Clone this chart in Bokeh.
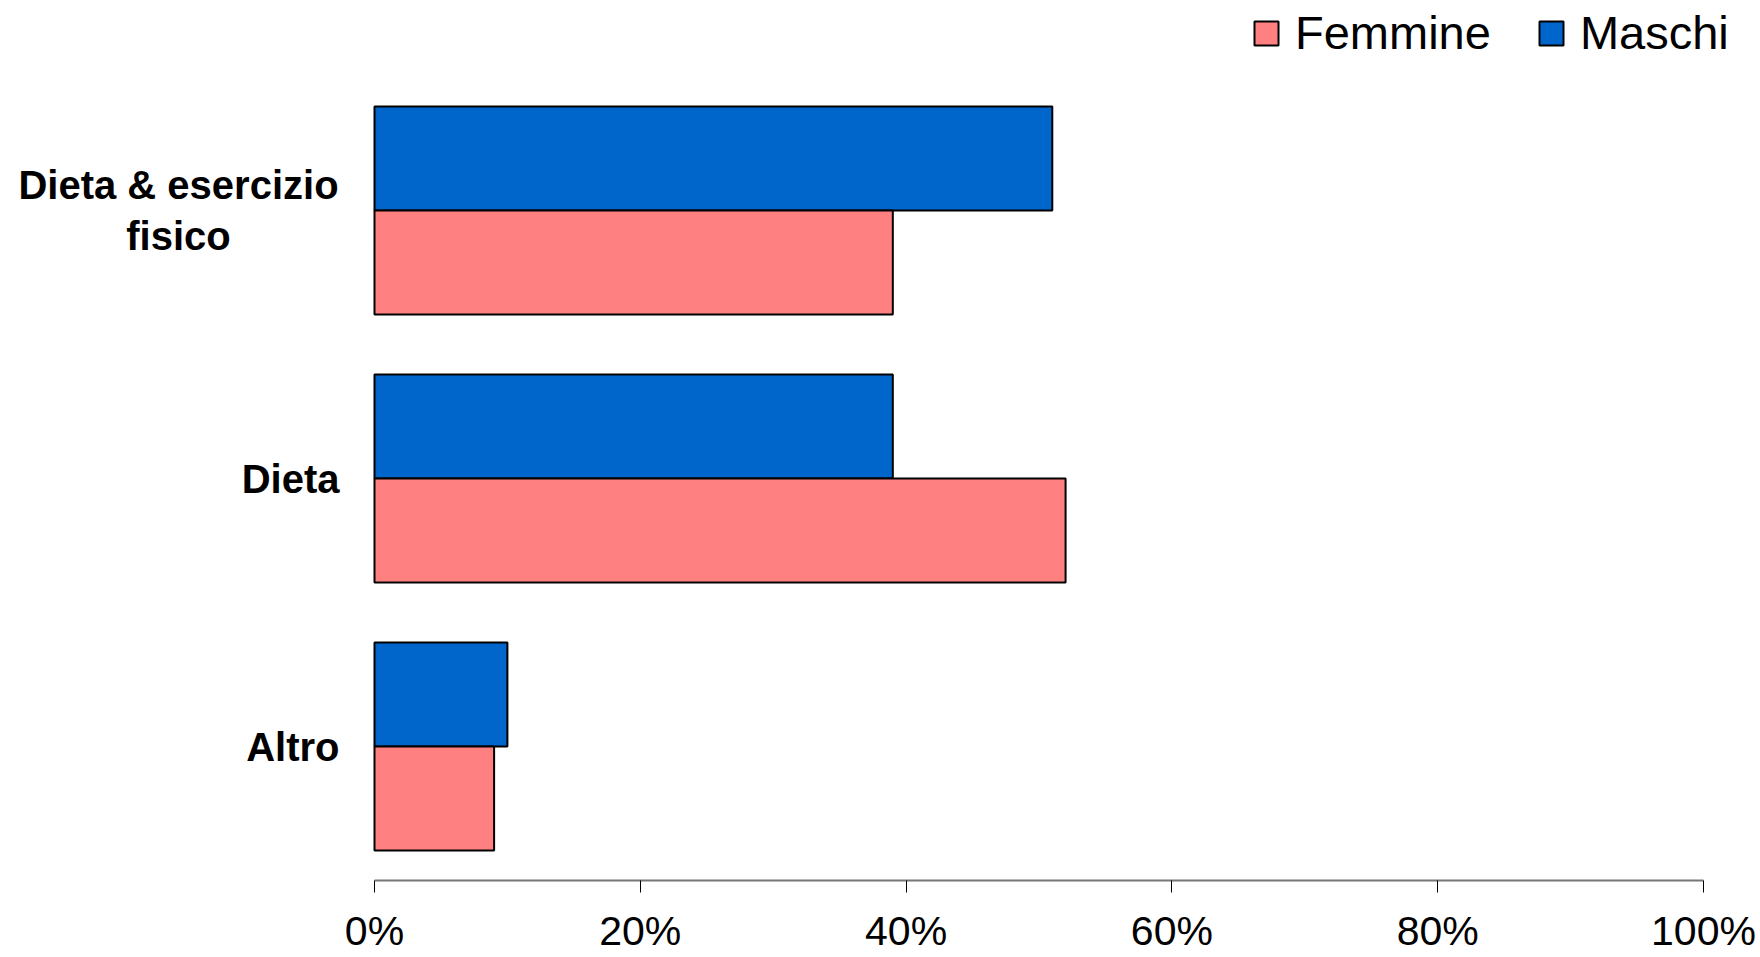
from bokeh.plotting import figure
from bokeh.models import (Range1d, FixedTicker, NumeralTickFormatter,
                          ColumnDataSource, Legend, LegendItem)
from bokeh.core.properties import value
from bokeh.embed import file_html
from bokeh.resources import INLINE

# Share of respondents by method, split by sex (top to bottom)
categories = ["Dieta & esercizio fisico", "Dieta", "Altro"]
cat_labels = ["Dieta & esercizio\nfisico", "Dieta", "Altro"]
femmine = [0.39, 0.52, 0.09]
maschi = [0.51, 0.39, 0.10]
x_ticks = [0, 0.2, 0.4, 0.6, 0.8, 1.0]

PINK = "#FF8080"
BLUE = "#0066CC"
BAR_H = 0.388

n = len(categories)
ypos = [n - i - 0.5 for i in range(n)]  # category centres, first category on top

source = ColumnDataSource(dict(
    cat=categories,
    label=cat_labels,
    y=ypos,
    y_m=[y + BAR_H / 2 for y in ypos],
    y_f=[y - BAR_H / 2 for y in ypos],
    femmine=femmine,
    maschi=maschi,
    align=["center" if "\n" in t else "right" for t in cat_labels],
    xoff=[-196 if "\n" in t else -35 for t in cat_labels],
))

# The plot frame spans the whole canvas above the x axis, so the category
# labels and the legend can sit inside it; the value axis is bounded to 0..1.
px_per_unit = 1329.0
p = figure(
    width=1760, height=957,
    x_range=Range1d(-374 / px_per_unit, (1760 - 374) / px_per_unit),
    y_range=Range1d(0, 880 / 268.0),
    output_backend="svg", toolbar_location=None,
    min_border_left=0, min_border_right=0,
    min_border_top=0, min_border_bottom=77,
)
p.outline_line_color = None
p.xgrid.visible = False
p.ygrid.visible = False
p.yaxis.visible = False

r_m = p.hbar(y="y_m", right="maschi", left=0, height=BAR_H, source=source,
             fill_color=BLUE, line_color="black", line_width=2)
r_f = p.hbar(y="y_f", right="femmine", left=0, height=BAR_H, source=source,
             fill_color=PINK, line_color="black", line_width=2)

# category labels left of the bars
p.text(x=0, y="y", text="label", source=source,
       x_offset="xoff", text_align="align", text_baseline="middle",
       text_font=value("Liberation Sans"), text_font_style="bold",
       text_font_size="40px", text_color="black", text_line_height=1.17)

# x axis
xa = p.xaxis[0]
xa.bounds = (0, 1)
xa.ticker = FixedTicker(ticks=x_ticks)
xa.formatter = NumeralTickFormatter(format="0%")
xa.minor_tick_line_color = None
xa.axis_line_color = "#777777"
xa.axis_line_width = 2
xa.major_tick_line_color = "black"
xa.major_tick_line_width = 1
xa.major_tick_in = 0
xa.major_tick_out = 12
xa.major_label_standoff = 15
xa.major_label_text_font = "Liberation Sans"
xa.major_label_text_font_size = "41px"
xa.major_label_text_color = "black"

legend = Legend(
    items=[LegendItem(label="Femmine", renderers=[r_f]),
           LegendItem(label="Maschi", renderers=[r_m])],
    orientation="horizontal",
    location=(1251, 820),
    glyph_width=30, glyph_height=30,
    label_standoff=14, spacing=45,
    padding=0, margin=0,
    border_line_alpha=0, background_fill_alpha=0,
    label_text_font="Liberation Sans", label_text_font_size="47px",
    label_text_color="black",
)
p.add_layout(legend, "center")

open("out.html", "w").write(file_html(p, INLINE))
